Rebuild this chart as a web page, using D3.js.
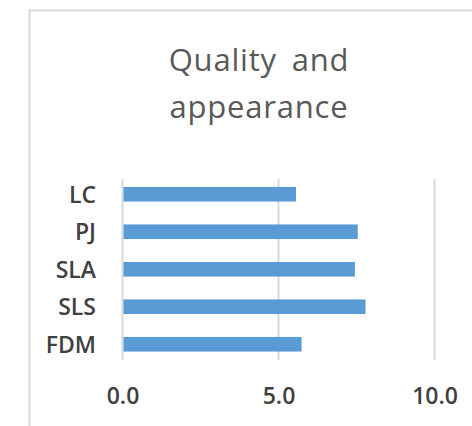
<!DOCTYPE html>
<html>
<head>
<meta charset="utf-8">
<script src="https://cdn.jsdelivr.net/npm/d3@7"></script>
<style>
  html, body { margin: 0; padding: 0; background: #ffffff; }
  svg { display: block; }
</style>
</head>
<body>
<svg id="chart" width="472" height="426"></svg>
<script>
// Categories listed top to bottom, with their scores
const categories = ["LC", "PJ", "SLA", "SLS", "FDM"];
const scores = [5.56, 7.54, 7.45, 7.79, 5.74];
const xTicks = [0, 5, 10];
const titleLines = ["Quality and", "appearance"];

const svg = d3.select("#chart");
const W = 472, H = 426;
const FONT = "'Open Sans', 'Noto Sans', sans-serif";

// Chart area frame
svg.append("rect")
  .attr("x", 29.5).attr("y", 10.5)
  .attr("width", W + 20).attr("height", H + 20)
  .attr("fill", "#ffffff")
  .attr("stroke", "#d9d9d9")
  .attr("stroke-width", 2);

// Title
const title = svg.append("text")
  .attr("text-anchor", "middle")
  .attr("fill", "#595959")
  .style("font-family", FONT)
  .style("font-weight", "500")
  .style("font-size", "31px")
  .style("letter-spacing", "0.8px")
  .style("word-spacing", "6px");
titleLines.forEach((t, i) => {
  title.append("tspan")
    .attr("x", 259)
    .attr("y", 71 + i * 47)
    .text(t);
});

const x = d3.scaleLinear().domain([0, 10]).range([122.5, 434.5]);
const y = d3.scaleBand().domain(categories).range([175.5, 363]).paddingInner(0.61).paddingOuter(0.305);

const plotTop = 179, plotBottom = 360;

// Vertical gridlines
svg.append("g")
  .selectAll("line")
  .data(xTicks)
  .join("line")
  .attr("x1", d => x(d)).attr("x2", d => x(d))
  .attr("y1", plotTop).attr("y2", plotBottom)
  .attr("stroke", "#d9d9d9")
  .attr("stroke-width", 2);

// Bars
svg.append("g")
  .selectAll("rect")
  .data(categories.map((c, i) => ({ c, v: scores[i] })))
  .join("rect")
  .attr("x", x(0) + 1)
  .attr("y", d => y(d.c))
  .attr("width", d => x(d.v) - x(0) - 1)
  .attr("height", y.bandwidth())
  .attr("fill", "#5b9bd5");

// Category axis labels
const yAxis = d3.axisLeft(y).tickSize(0).tickPadding(0);
const gy = svg.append("g")
  .attr("transform", "translate(96,0)")
  .call(yAxis);
gy.select(".domain").remove();
gy.selectAll("text")
  .attr("fill", "#404040")
  .attr("dy", "0.36em")
  .style("font-family", FONT)
  .style("font-weight", "600")
  .style("font-size", "23px");

// Value axis labels
const xAxis = d3.axisBottom(x).tickValues(xTicks).tickFormat(d3.format(".1f")).tickSize(0).tickPadding(0);
const gx = svg.append("g")
  .attr("transform", "translate(0,396)")
  .call(xAxis);
gx.select(".domain").remove();
gx.selectAll("text")
  .attr("fill", "#404040")
  .attr("dy", "0.36em")
  .style("font-family", FONT)
  .style("font-weight", "600")
  .style("font-size", "23px");
</script>
</body>
</html>
